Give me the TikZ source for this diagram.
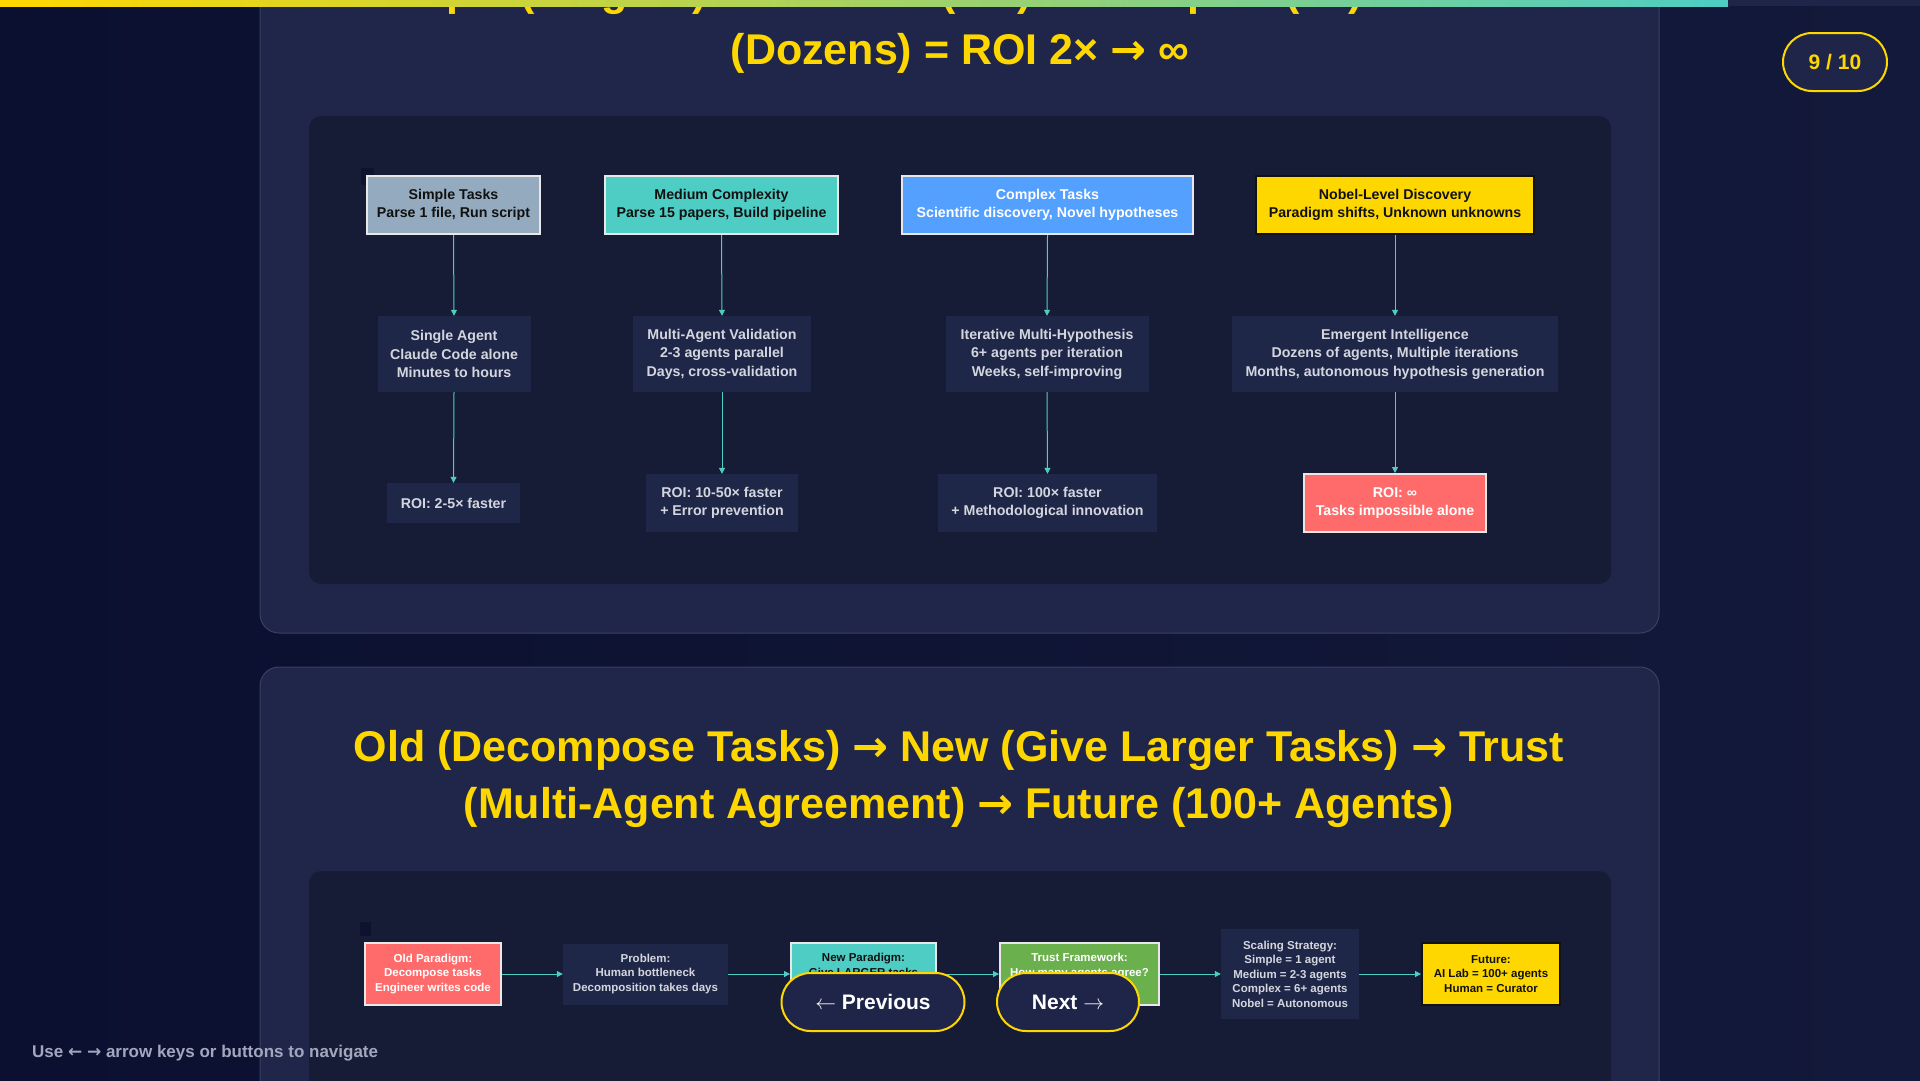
\documentclass[tikz,border=0pt]{standalone}
\usepackage{fontspec}
\setmainfont{Liberation Sans}
\newfontfamily\arrowfont{DejaVu Sans}
\usetikzlibrary{arrows.meta}

\newcommand\rar{{\arrowfont →}}
\newcommand\lar{{\arrowfont ←}}

\definecolor{cBgL}{HTML}{0B1030}
\definecolor{cBgR}{HTML}{13193A}
\definecolor{cCard}{HTML}{1F2649}
\definecolor{cCardEdge}{HTML}{3A4062}
\definecolor{cPanel}{HTML}{171C36}
\definecolor{cNode}{HTML}{1F2749}
\definecolor{cYellow}{HTML}{FFD700}
\definecolor{cTeal}{HTML}{4ECDC4}
\definecolor{cTrack}{HTML}{1E2548}
\definecolor{cSlate}{HTML}{94AABF}
\definecolor{cBlue}{HTML}{54A0FF}
\definecolor{cRed}{HTML}{FF6B6B}
\definecolor{cGreen}{HTML}{6AB04C}
\definecolor{cDark}{HTML}{111111}
\definecolor{cLight}{HTML}{D4D6DE}
\definecolor{cHint}{HTML}{A3A7BD}
\definecolor{cEdge}{HTML}{E8E8E8}
\definecolor{cSpeck}{HTML}{0E1230}

\tikzset{
  box/.style={rectangle, inner sep=0pt, align=center,
    font=\bfseries\fontsize{14.2}{18.4}\selectfont},
  minibox/.style={rectangle, inner sep=0pt, align=center,
    font=\bfseries\fontsize{11.5}{14.5}\selectfont},
  litebox/.style={fill=cSlate, draw=cEdge, line width=2pt, text=cDark},
  tealbox/.style={fill=cTeal, draw=cEdge, line width=2pt, text=cDark},
  bluebox/.style={fill=cBlue, draw=cEdge, line width=2pt, text=white},
  goldbox/.style={fill=cYellow, draw=cDark, line width=2pt, text=cDark},
  redbox/.style={fill=cRed, draw=cEdge, line width=2pt, text=white},
  greenbox/.style={fill=cGreen, draw=cEdge, line width=2pt, text=white},
  darkbox/.style={fill=cNode, text=cLight},
  flow/.style={draw=cTeal, line width=1pt, -{Triangle[length=6pt,width=6pt]}},
  headline/.style={text=cYellow, anchor=base, inner sep=0pt,
    font=\bfseries\fontsize{43}{48}\selectfont},
  pill/.style={rectangle, rounded corners=29pt, fill=cTrack, draw=cYellow,
    line width=2pt, inner sep=0pt},
  card/.style={fill=cCard, draw=cCardEdge, line width=1pt, rounded corners=19pt},
}

\begin{document}
\begin{tikzpicture}[x=1pt,y=-1pt]
\useasboundingbox (0,0) rectangle (1920,1080);
\clip (0,0) rectangle (1920,1080);

% page background
\shade[left color=cBgL, right color=cBgR] (0,0) rectangle (1920,1080);

% slide cards
\draw[card] (260,-40) rectangle (1659,633);
\draw[card] (260,667) rectangle (1659,1130);

% card titles
\node[headline] (t1a) at (955,5) {Simple (1 Agent) \rar{} Medium (2-3) \rar{} Complex (6+) \rar{} Nobel};
\node[headline] (t1b) at (960,64) {(Dozens) = ROI 2× \rar{} ∞};
\node[headline] (t2a) at (959,761) {Old (Decompose Tasks) \rar{} New (Give Larger Tasks) \rar{} Trust};
\node[headline] (t2b) at (959,818) {(Multi-Agent Agreement) \rar{} Future (100+ Agents)};

% progress bar
\shade[left color=cYellow, right color=cTeal] (0,0) rectangle (1728,6);
\fill[cTrack] (1728,0) rectangle (1920,6);

% diagram panels
\fill[cPanel, rounded corners=12pt] (309,116) rectangle (1611,584);
\fill[cPanel, rounded corners=12pt] (309,871) rectangle (1611,1130);
\fill[cSpeck] (361,168) rectangle (374,185);
\fill[cSpeck] (360,922) rectangle (371,936);

% ---- task complexity ladder ----
\node[box, litebox, minimum width=173pt, minimum height=58pt] (simple) at (453.5,205)
  {Simple Tasks\\Parse 1 file, Run script};
\node[box, tealbox, minimum width=233pt, minimum height=58pt] (medium) at (721.5,205)
  {Medium Complexity\\Parse 15 papers, Build pipeline};
\node[box, bluebox, minimum width=291pt, minimum height=58pt] (complex) at (1047.5,205)
  {Complex Tasks\\Scientific discovery, Novel hypotheses};
\node[box, goldbox, minimum width=278pt, minimum height=58pt] (nobel) at (1395,205)
  {Nobel-Level Discovery\\Paradigm shifts, Unknown unknowns};

\node[box, darkbox, minimum width=153pt, minimum height=76pt] (single) at (454,354)
  {Single Agent\\Claude Code alone\\Minutes to hours};
\node[box, darkbox, minimum width=178pt, minimum height=76pt] (multi) at (722,354)
  {Multi-Agent Validation\\2-3 agents parallel\\Days, cross-validation};
\node[box, darkbox, minimum width=203pt, minimum height=76pt] (iter) at (1047,354)
  {Iterative Multi-Hypothesis\\6+ agents per iteration\\Weeks, self-improving};
\node[box, darkbox, minimum width=326pt, minimum height=76pt] (emerg) at (1395,354)
  {Emergent Intelligence\\Dozens of agents, Multiple iterations\\Months, autonomous hypothesis generation};

\node[box, darkbox, minimum width=133pt, minimum height=40pt] (roiA) at (453.5,503)
  {ROI: 2-5× faster};
\node[box, darkbox, minimum width=152pt, minimum height=58pt] (roiB) at (722,503)
  {ROI: 10-50× faster\\+ Error prevention};
\node[box, darkbox, minimum width=219pt, minimum height=58pt] (roiC) at (1047.5,503)
  {ROI: 100× faster\\+ Methodological innovation};
\node[box, redbox, minimum width=182pt, minimum height=58pt] (roiD) at (1395,503)
  {ROI: ∞\\Tasks impossible alone};

\foreach \a/\b in {simple/single, single/roiA, medium/multi, multi/roiB,
                   complex/iter, iter/roiC, nobel/emerg, emerg/roiD}
  \draw[flow] (\a.south) -- (\b.north);

% ---- paradigm shift chain ----
\node[minibox, redbox, minimum width=136pt, minimum height=62pt] (old) at (433,974)
  {Old Paradigm:\\Decompose tasks\\Engineer writes code};
\node[minibox, darkbox, minimum width=165pt, minimum height=61pt] (prob) at (645.5,974)
  {Problem:\\Human bottleneck\\Decomposition takes days};
\node[minibox, tealbox, minimum width=145pt, minimum height=62pt] (newp) at (863.5,974)
  {New Paradigm:\\Give LARGER tasks\\\strut};
\node[minibox, greenbox, minimum width=159pt, minimum height=62pt] (trust) at (1079.5,974)
  {Trust Framework:\\How many agents agree?\\\strut};
\node[minibox, darkbox, minimum width=138pt, minimum height=90pt] (scale) at (1290,974)
  {Scaling Strategy:\\Simple = 1 agent\\Medium = 2-3 agents\\Complex = 6+ agents\\Nobel = Autonomous};
\node[minibox, goldbox, minimum width=138pt, minimum height=62pt] (future) at (1491,974)
  {Future:\\AI Lab = 100+ agents\\Human = Curator};

\foreach \a/\b in {old/prob, prob/newp, newp/trust, trust/scale, scale/future}
  \draw[flow] (\a.east) -- (\b.west);

% ---- navigation ----
\node[pill, minimum width=104pt, minimum height=58pt, text=cYellow,
      font=\bfseries\fontsize{21}{25}\selectfont] (page) at (1835,62) {9 / 10};
\node[pill, minimum width=183pt, minimum height=58pt, text=white,
      font=\bfseries\fontsize{21}{25}\selectfont] (prev) at (873,1002) {$\leftarrow$ Previous};
\node[pill, minimum width=142pt, minimum height=58pt, text=white,
      font=\bfseries\fontsize{21}{25}\selectfont] (next) at (1068,1002) {Next $\rightarrow$};
\node[anchor=west, text=cHint, font=\bfseries\fontsize{17}{20}\selectfont, inner sep=0pt]
  (hint) at (32,1053) {Use \lar{} \rar{} arrow keys or buttons to navigate};
\end{tikzpicture}
\end{document}
